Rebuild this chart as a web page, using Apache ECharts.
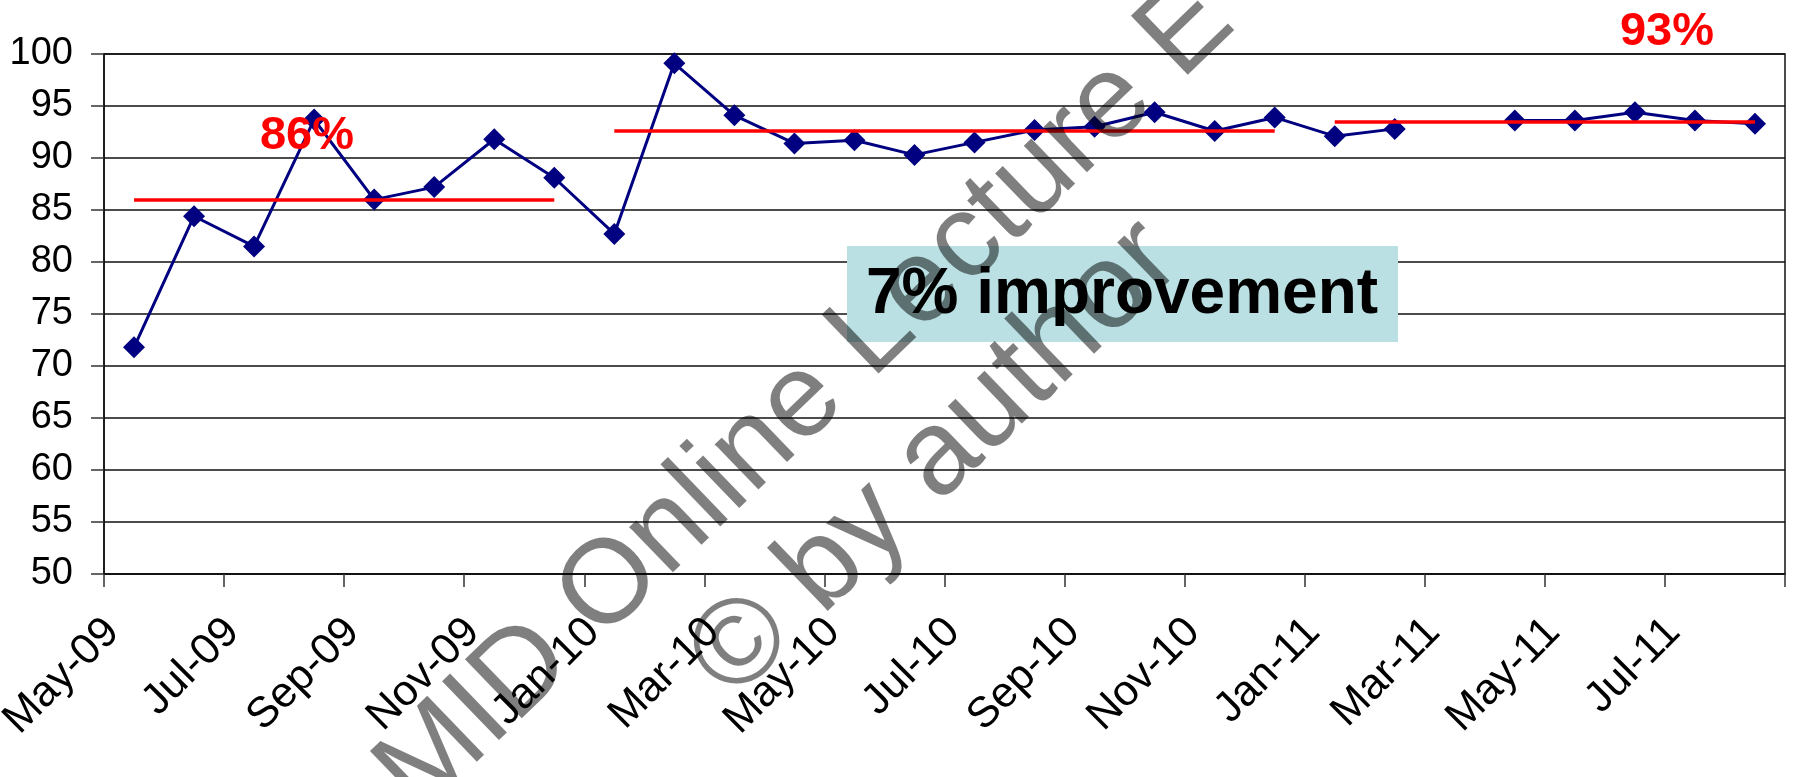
<!DOCTYPE html>
<html>
<head>
<meta charset="utf-8">
<title>Monthly score</title>
<script src="https://cdn.jsdelivr.net/npm/echarts@6/dist/echarts.min.js"></script>
<style>
  html, body { margin: 0; padding: 0; background: #fff; }
  #chart { width: 1795px; height: 777px; }
</style>
</head>
<body>
<div id="chart"></div>
<script>
// one point per month, May-09 .. Aug-11 (no value for Mar-11)
const months = ['May-09', 'Jun-09', 'Jul-09', 'Aug-09', 'Sep-09', 'Oct-09', 'Nov-09', 'Dec-09',
  'Jan-10', 'Feb-10', 'Mar-10', 'Apr-10', 'May-10', 'Jun-10', 'Jul-10', 'Aug-10', 'Sep-10', 'Oct-10',
  'Nov-10', 'Dec-10', 'Jan-11', 'Feb-11', 'Mar-11', 'Apr-11', 'May-11', 'Jun-11', 'Jul-11', 'Aug-11']
const scores = [71.8, 84.4, 81.5, 93.7, 86.0, 87.2, 91.8, 88.1,
  82.7, 99.1, 94.1, 91.4, 91.7, 90.3, 91.5, 92.7, 93.0, 94.4,
  92.6, 93.9, 92.1, 92.8, null, 93.6, 93.6, 94.4, 93.6, 93.3]
const tickLabels = ['May-09', 'Jul-09', 'Sep-09', 'Nov-09', 'Jan-10', 'Mar-10', 'May-10',
  'Jul-10', 'Sep-10', 'Nov-10', 'Jan-11', 'Mar-11', 'May-11', 'Jul-11']

// average lines: first / last month index of each period and the level
const meanFrom = [0, 8, 20]
const meanTo = [7, 19, 27]
const meanLevel = [86.0, 92.6, 93.5]

const FONT = 'Liberation Sans, Arial, sans-serif'

const chart = echarts.init(document.getElementById('chart'))

const lineData = scores.map((v, i) => [i + 0.5, v == null ? '-' : v])
const meanLines = meanLevel.map((lv, k) => [
  { coord: [meanFrom[k] + 0.5, lv] },
  { coord: [meanTo[k] + 0.5, lv] }
])

chart.setOption({
  animation: false,
  backgroundColor: '#fff',
  grid: {
    left: 104, right: 10, top: 54, bottom: 203,
    outerBoundsMode: 'none',
    containLabel: false,
    show: true, borderColor: '#111', borderWidth: 1.5
  },
  xAxis: {
    type: 'value',
    min: 0,
    max: months.length,
    interval: 2,
    splitLine: { show: false },
    axisLine: { show: true, lineStyle: { color: '#111', width: 1.5 } },
    axisTick: { show: true, length: 13, lineStyle: { color: '#333', width: 1.5 } },
    axisLabel: {
      rotate: 45,
      margin: 60,
      padding: [0, -12, 0, 0],
      fontSize: 43,
      fontFamily: FONT,
      color: '#000',
      formatter: (v) => tickLabels[v / 2] || ''
    }
  },
  yAxis: {
    type: 'value',
    min: 50,
    max: 100,
    interval: 5,
    axisLine: { show: true, lineStyle: { color: '#111', width: 1.5 } },
    axisTick: { show: true, length: 13, lineStyle: { color: '#333', width: 1.5 } },
    splitLine: { show: true, lineStyle: { color: '#111', width: 1.5 } },
    axisLabel: { fontSize: 38, margin: 31, fontFamily: FONT, color: '#000' }
  },
  series: [
    {
      name: 'average',
      type: 'line',
      data: [],
      z: 2,
      markLine: {
        silent: true,
        symbol: 'none',
        label: { show: false },
        lineStyle: { color: '#ff0000', width: 3.5, type: 'solid' },
        data: meanLines
      }
    },
    {
      name: 'score',
      type: 'line',
      data: lineData,
      z: 3,
      connectNulls: false,
      symbol: 'diamond',
      symbolSize: 22,
      lineStyle: { color: '#000080', width: 3 },
      itemStyle: { color: '#000080' }
    }
  ],
  graphic: [
    {
      type: 'rect', z: 50,
      shape: { x: 847, y: 246, width: 551, height: 96 },
      style: { fill: '#bae0e3' }
    },
    {
      type: 'text', z: 51, x: 1122, y: 295,
      style: { text: '7% improvement', font: 'bold 64px ' + FONT, fill: '#000',
        textAlign: 'center', textVerticalAlign: 'middle' }
    },
    {
      type: 'text', z: 60, x: 307, y: 136,
      style: { text: '86%', font: 'bold 47px ' + FONT, fill: '#ff0000',
        textAlign: 'center', textVerticalAlign: 'middle' }
    },
    {
      type: 'text', z: 60, x: 1667, y: 32,
      style: { text: '93%', font: 'bold 47px ' + FONT, fill: '#ff0000',
        textAlign: 'center', textVerticalAlign: 'middle' }
    },
    // watermark
    {
      type: 'text', z: 100, x: 806, y: 398, rotation: 44 * Math.PI / 180,
      style: { text: 'MID Online Lecture E', font: '119px ' + FONT, fill: 'rgba(0,0,0,0.5)',
        textAlign: 'center', textVerticalAlign: 'middle' }
    },
    {
      type: 'text', z: 100, x: 936, y: 460, rotation: 44 * Math.PI / 180,
      style: { text: '© by author', font: '121px ' + FONT, fill: 'rgba(0,0,0,0.5)',
        textAlign: 'center', textVerticalAlign: 'middle' }
    }
  ]
})
</script>
</body>
</html>
